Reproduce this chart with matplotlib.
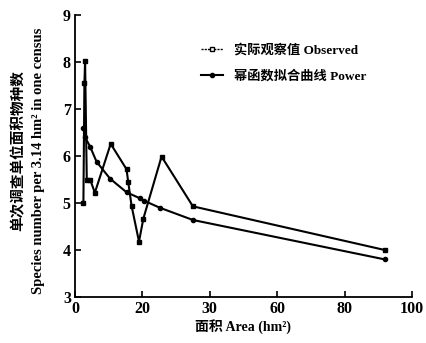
### Import modules
import numpy as np
import matplotlib
matplotlib.use('Agg')
import matplotlib.pyplot as plt
from matplotlib.lines import Line2D

### Fonts: serif latin, CJK fallback
plt.rcParams['font.family'] = ['Liberation Serif', 'Noto Sans CJK SC', 'DejaVu Sans']
plt.rcParams['font.weight'] = 'bold'

### Data
obs_area = [2.5, 2.8, 3.0, 3.5, 4.5, 5.9, 10.6, 15.3, 15.8, 16.8, 19.0, 20.3, 25.7, 35.0, 92.0]
obs_species = [5.0, 7.55, 8.02, 5.5, 5.5, 5.22, 6.26, 5.72, 5.45, 4.94, 4.18, 4.67, 5.99, 4.93, 4.0]

pow_area = [2.5, 3.0, 4.5, 6.4, 10.4, 15.3, 19.3, 20.5, 25.2, 35.0, 92.0]
pow_species = [6.59, 6.4, 6.2, 5.88, 5.52, 5.23, 5.1, 5.05, 4.9, 4.64, 3.8]

xtick_pos = [0, 20, 40, 60, 80, 100]
xtick_lab = ['0', '20', '30', '60', '80', '100']
ytick_pos = [3, 4, 5, 6, 7, 8, 9]

label_obs = '实际观察值 Observed'
label_pow = '幂函数拟合曲线 Power'

### Plot figure
fig = plt.figure(figsize=(4.27, 3.43), dpi=100)
ax = fig.add_axes([0.1756, 0.134, 0.789, 0.822])

ax.plot(obs_area, obs_species, color='black', linewidth=1.5, marker='s',
        markersize=3.3, markerfacecolor='black', markeredgecolor='black')
ax.plot(pow_area, pow_species, color='black', linewidth=1.5, marker='o',
        markersize=3.0, markerfacecolor='black', markeredgecolor='black')

ax.spines['top'].set_visible(False)
ax.spines['right'].set_visible(False)
ax.spines['left'].set_linewidth(1.3)
ax.spines['bottom'].set_linewidth(1.3)
ax.tick_params('both', direction='in', length=4, width=1.2, labelsize=11.5, pad=3)

ax.set_xlim(0, 100)
ax.set_ylim(3, 9)
ax.set_xticks(xtick_pos)
ax.set_xticklabels(xtick_lab, fontweight='bold')
ax.set_yticks(ytick_pos)
ax.set_yticklabels([str(v) for v in ytick_pos], fontweight='bold')

ax.set_xlabel('面积 Area (hm²)', fontsize=10, fontweight='bold', labelpad=1)

fig.text(0.043, 0.56, '单次调查单位面积物种数', rotation=90, ha='center', va='center',
         fontsize=10.5, fontweight='bold')
fig.text(0.091, 0.53, 'Species number per 3.14 hm² in one census', rotation=90,
         ha='center', va='center', fontsize=10.5, fontweight='bold')

### Legend
h_obs = Line2D([], [], color='black', linewidth=1.0, linestyle=(0, (1.5, 0.8)),
               marker='s', markersize=3.5, markerfacecolor='white', markeredgecolor='black')
h_pow = Line2D([], [], color='black', linewidth=1.5, marker='o', markersize=3.0,
               markerfacecolor='black')
l = ax.legend([h_obs, h_pow], [label_obs, label_pow], loc='upper left',
              bbox_to_anchor=(0.34, 0.94), frameon=False, fontsize=9.5,
              handlelength=1.6, handletextpad=0.9, labelspacing=1.0)
for text in l.get_texts():
    text.set_fontweight('bold')

plt.savefig('out.png', dpi=100)
